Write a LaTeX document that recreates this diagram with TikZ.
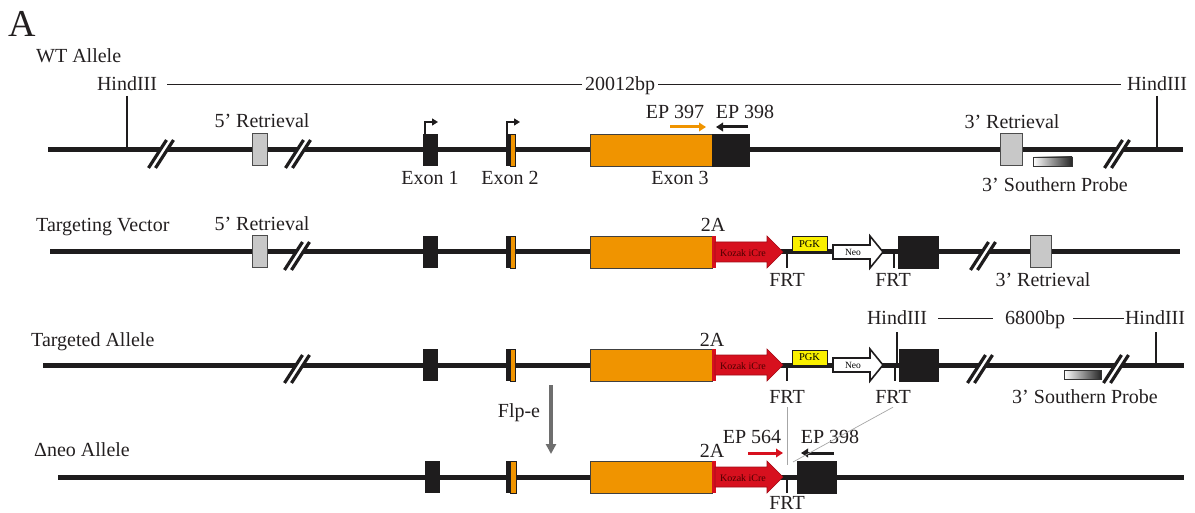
\documentclass[tikz,border=0pt]{standalone}
\usepackage{fontspec}
\setmainfont{Liberation Serif}
\usetikzlibrary{arrows.meta}
\definecolor{txt}{RGB}{35,31,32}
\definecolor{orng}{RGB}{240,148,0}
\definecolor{redc}{RGB}{215,16,30}
\definecolor{yel}{RGB}{250,240,0}
\definecolor{gbox}{RGB}{200,200,200}
\definecolor{blk}{RGB}{30,28,29}
\definecolor{flp}{RGB}{110,110,110}
\newcommand{\mybrk}[2]{%
  \draw[white,line width=4pt] (#1-9,#2+18) -- (#1+9,#2-10);
  \draw[blk,line width=3.2pt] (#1-12.5,#2+18) -- (#1+5.5,#2-10);
  \draw[blk,line width=3.2pt] (#1-5.5,#2+18) -- (#1+12.5,#2-10);}
\newcommand{\kozakarrow}[1]{%
  \fill[redc] (712,#1-16) rectangle (715.5,#1+16);
  \filldraw[fill=redc,draw=redc!75!black,line width=0.6pt] (715,#1-10) -- (767,#1-10) -- (767,#1-16) -- (783,#1) -- (767,#1+16) -- (767,#1+10) -- (715,#1+10) -- cycle;}
\newcommand{\neoarrow}[1]{%
  \filldraw[fill=white,draw=blk,line width=1.6pt] (833,#1-7) -- (870,#1-7) -- (870,#1-16) -- (883,#1) -- (870,#1+16) -- (870,#1+7) -- (833,#1+7) -- cycle;}
\newcommand{\exonsAB}[1]{%
  \fill[blk] (423,#1-16) rectangle (438,#1+16);
  \fill[blk] (506,#1-16) rectangle (510,#1+16);
  \filldraw[fill=orng,draw=blk,line width=0.8pt] (510,#1-16) rectangle (515,#1+16);}
\begin{document}
\begin{tikzpicture}[x=1pt,y=-1pt,
  lbl/.style={font=\fontsize{20}{24}\selectfont,text=txt,inner sep=0pt,anchor=base},
  lblw/.style={lbl,anchor=base west},
  tiny/.style={font=\fontsize{10}{11}\selectfont,inner sep=0pt},
  bb/.style={draw=blk,line width=5pt},
  gboxs/.style={fill=gbox,draw=black!70,line width=1pt},
  orbox/.style={fill=orng,draw=black!75,line width=0.8pt},
  blkbox/.style={fill=blk,draw=blk,line width=0.8pt},
  tick/.style={draw=blk,line width=2.2pt},
  dim/.style={draw=txt,line width=1.1pt},
  promo/.style={draw=blk,line width=1.4pt,-{Triangle[length=6pt,width=7pt]}},
  primer/.style={line width=3pt,-{Triangle[length=7pt,width=8.5pt]}},
  probe/.style={left color=white,right color=black!85,draw=black!80,line width=0.8pt},
  gline/.style={draw=black!35,line width=0.7pt}]
\useasboundingbox (0,0) rectangle (1195,513);

% ---------- titles
\node[lbl,anchor=base west,font=\fontsize{38}{40}\selectfont] (A) at (8,37) {A};
\node[lblw] (wt) at (36,63) {WT Allele};
\node[lblw] (tv) at (36,232) {Targeting Vector};
\node[lblw] (ta) at (31,346) {Targeted Allele};
\node[lblw] (dn) at (34,456) {Δneo Allele};

% ================= Row 1: WT allele (y=150)
\draw[bb] (48,150) -- (1183,150);
\node[lbl] (h1) at (127,91) {HindIII};
\node[lbl] (bp1) at (620,91) {20012bp};
\node[lbl] (h2) at (1157,91) {HindIII};
\draw[dim] ([xshift=10pt]h1.east) -- ([xshift=-3pt]bp1.west |- h1.east);
\draw[dim] ([xshift=3pt]bp1.east |- h2.west) -- ([xshift=-6pt]h2.west);
\draw[tick] (127,96) -- (127,150);
\draw[tick] (1157,96) -- (1157,150);
\mybrk{161}{150}
\mybrk{298}{150}
\mybrk{1117}{150}
\draw[gboxs] (252,134) rectangle (267,166);
\node[lbl] (r5a) at (262,128) {5’ Retrieval};
\exonsAB{150}
\draw[promo] (425,134) -- (425,122) -- (438,122);
\draw[promo] (507,134) -- (507,122) -- (520,122);
\node[lbl] (e1) at (430,185) {Exon 1};
\node[lbl] (e2) at (510,185) {Exon 2};
\draw[orbox] (590,134) rectangle (712,166);
\draw[blkbox] (712,134) rectangle (749,166);
\node[lbl] (e3) at (680,185) {Exon 3};
\node[lbl] (ep397) at (675,119) {EP 397};
\node[lbl] (ep398a) at (745,119) {EP 398};
\coordinate (p1s) at (670,127); \coordinate (p1e) at (706,127);
\coordinate (p2s) at (748,127); \coordinate (p2e) at (716,127);
\draw[primer,draw=orng] (p1s) -- (p1e);
\draw[primer,draw=blk] (p2s) -- (p2e);
\draw[gboxs] (1000,134) rectangle (1022,166);
\node[lbl] (r3a) at (1012,129) {3’ Retrieval};
\draw[probe] (1033,157) rectangle (1072,166);
\node[lbl] (sp1) at (1055,192) {3’ Southern Probe};

% ================= Row 2: targeting vector (y=252)
\draw[bb] (50,252) -- (1180,252);
\draw[gboxs] (252,236) rectangle (267,268);
\node[lbl] (r5b) at (262,231) {5’ Retrieval};
\mybrk{297}{252}
\exonsAB{252}
\draw[orbox] (590,236) rectangle (712,268);
\kozakarrow{252}
\node[tiny,text=black!70!red] (kz2) at (743,253) {Kozak iCre};
\node[lbl] (a2) at (713,232) {2A};
\draw[tick] (787,252) -- (787,268);
\node[lbl] (frt2a) at (787,287) {FRT};
\draw[fill=yel,draw=blk,line width=1pt] (792,237) rectangle (827,252);
\node[tiny,font=\fontsize{10.5}{11}\selectfont] (pgk2) at (809.5,244.5) {PGK};
\neoarrow{252}
\node[tiny,font=\fontsize{9.5}{10}\selectfont] (neo2) at (853,252.5) {Neo};
\draw[tick] (894,252) -- (894,268);
\node[lbl] (frt2b) at (893,287) {FRT};
\draw[blkbox] (898,236) rectangle (938,268);
\mybrk{983}{252}
\draw[gboxs] (1030,236) rectangle (1051,268);
\node[lbl] (r3b) at (1043,287) {3’ Retrieval};

% ================= Row 3: targeted allele (y=365)
\draw[bb] (43,365) -- (1184,365);
\mybrk{297}{365}
\exonsAB{365}
\draw[orbox] (590,349) rectangle (712,381);
\kozakarrow{365}
\node[tiny,text=black!70!red] (kz3) at (743,366) {Kozak iCre};
\node[lbl] (a3) at (712,346) {2A};
\draw[tick] (787,365) -- (787,381);
\node[lbl] (frt3a) at (787,403) {FRT};
\draw[fill=yel,draw=blk,line width=1pt] (792,350) rectangle (827,365);
\node[tiny,font=\fontsize{10.5}{11}\selectfont] (pgk3) at (809.5,357.5) {PGK};
\neoarrow{365}
\node[tiny,font=\fontsize{9.5}{10}\selectfont] (neo3) at (853,365.5) {Neo};
\draw[tick] (895,365) -- (895,381);
\node[lbl] (frt3b) at (893,403) {FRT};
\draw[blkbox] (899,349) rectangle (938,381);
\draw[tick] (897,332) -- (897,365);
\node[lbl] (h3) at (897,325) {HindIII};
\node[lbl] (bp3) at (1035,325) {6800bp};
\node[lbl] (h4) at (1155,325) {HindIII};
\draw[dim] ([xshift=11pt]h3.east) -- ([xshift=-12pt]bp3.west |- h3.east);
\draw[dim] ([xshift=8pt]bp3.east |- h4.west) -- ([xshift=-1pt]h4.west);
\draw[tick] (1156,332) -- (1156,365);
\mybrk{980}{365}
\mybrk{1116}{365}
\draw[probe] (1064,370) rectangle (1101,379);
\node[lbl] (sp3) at (1085,403) {3’ Southern Probe};

% Flp-e
\node[lbl] (flpe) at (519,417) {Flp-e};
\coordinate (f1) at (551,385); \coordinate (f2) at (551,454);
\draw[draw=flp,line width=3.5pt,-{Triangle[length=10pt,width=10pt]}] (f1) -- (f2);

% ================= Row 4: delta-neo allele (y=477)
\draw[bb] (58,477) -- (1184,477);
\fill[blk] (425,461) rectangle (440,493);
\fill[blk] (506,461) rectangle (510,493);
\filldraw[fill=orng,draw=blk,line width=0.8pt] (510,461) rectangle (516,493);
\draw[orbox] (590,461) rectangle (712,493);
\kozakarrow{477}
\node[tiny,text=black!70!red] (kz4) at (743,478) {Kozak iCre};
\node[lbl] (a4) at (712,457) {2A};
\draw[tick] (787,477) -- (787,493);
\node[lbl] (frt4) at (787,509.5) {FRT};
\draw[blkbox] (797,461) rectangle (836,493);
\node[lbl] (ep564) at (752,443) {EP 564};
\node[lbl] (ep398b) at (830,443) {EP 398};
\coordinate (p3s) at (748,453); \coordinate (p3e) at (783,453);
\coordinate (p4s) at (834,453); \coordinate (p4e) at (801,453);
\draw[primer,draw=redc] (p3s) -- (p3e);
\draw[primer,draw=blk] (p4s) -- (p4e);

% thin gray connectors
\coordinate (g1) at (787,465);
\coordinate (g2) at (793,462);
\draw[gline] ([yshift=-4pt]frt3a.south) -- (g1);
\draw[gline] ([yshift=-4pt]frt3b.south) -- (g2);
\end{tikzpicture}
\end{document}
